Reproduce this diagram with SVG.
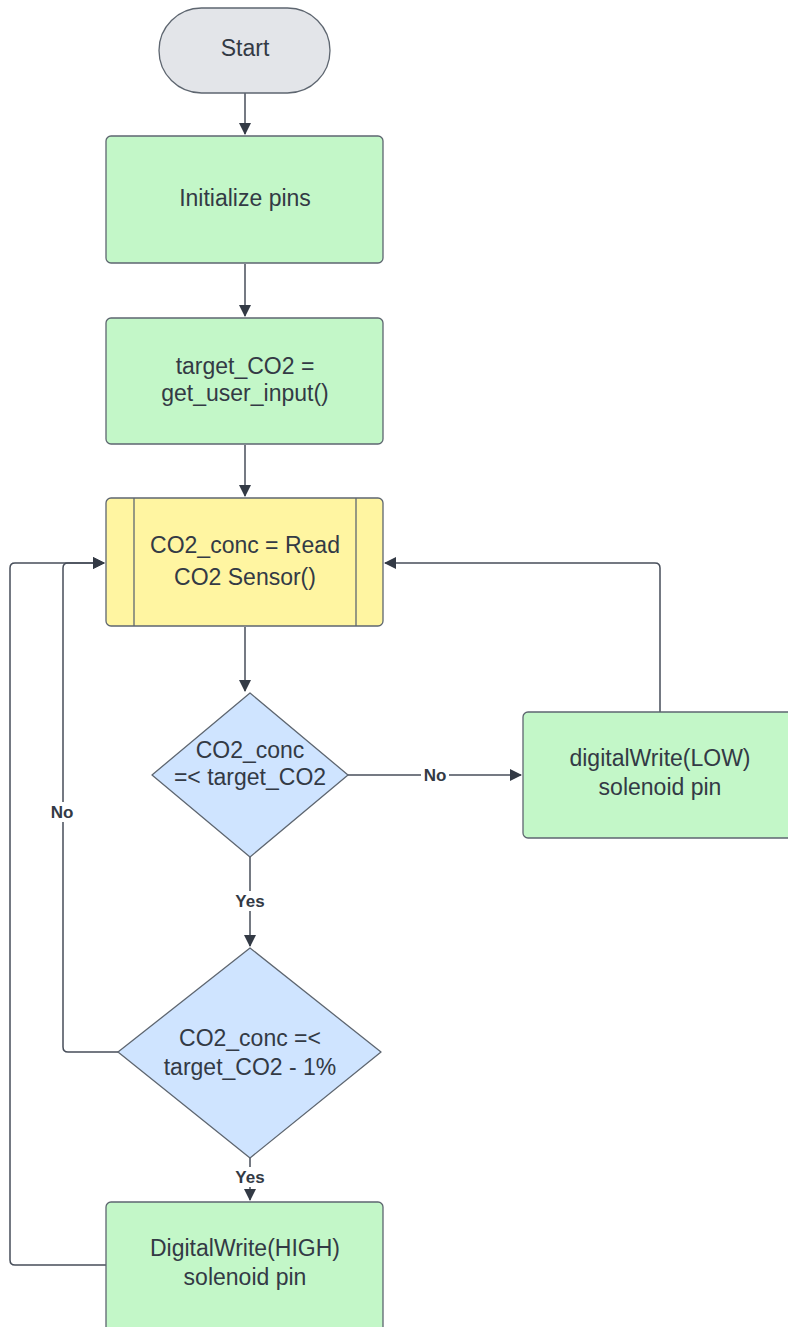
<svg xmlns="http://www.w3.org/2000/svg" width="788" height="1327" viewBox="0 0 788 1327">
<style>
.t{font-family:"Liberation Sans",Arial,sans-serif;font-size:23px;fill:#333a45;text-anchor:middle}
.l{font-family:"Liberation Sans",Arial,sans-serif;font-size:17px;font-weight:bold;fill:#333a45;text-anchor:middle}
.g{fill:#c3f7c8;stroke:#5e6670;stroke-width:1.3}
.y{fill:#fff5a1;stroke:#5e6670;stroke-width:1.3}
.b{fill:#cfe4ff;stroke:#5e6670;stroke-width:1.3;stroke-linejoin:round}
.s{fill:#e3e5e9;stroke:#5e6670;stroke-width:1.3}
.c{fill:none;stroke:#474e5a;stroke-width:1.5;stroke-linejoin:round}
</style>
<defs>
<marker id="a" markerWidth="12" markerHeight="12" refX="11" refY="6" orient="auto" markerUnits="userSpaceOnUse">
<path d="M0,0 L12,6 L0,12 Z" fill="#333a45"/>
</marker>
</defs>
<rect width="788" height="1327" fill="#ffffff"/>
<g id="connectors">
<path class="c" d="M245,93 L245,134" marker-end="url(#a)"/>
<path class="c" d="M245,264 L245,316" marker-end="url(#a)"/>
<path class="c" d="M245,445 L245,496" marker-end="url(#a)"/>
<path class="c" d="M245,627 L245,691" marker-end="url(#a)"/>
<path class="c" d="M348,775 L521,775" marker-end="url(#a)"/>
<path class="c" d="M660,712 L660,568 Q660,563 655,563 L385,563" marker-end="url(#a)"/>
<path class="c" d="M250,857 L250,946" marker-end="url(#a)"/>
<path class="c" d="M118,1052 L68,1052 Q63,1052 63,1047 L63,568 Q63,563 68,563 L104,563" marker-end="url(#a)"/>
<path class="c" d="M106,1265 L15,1265 Q10,1265 10,1260 L10,568 Q10,563 15,563 L104,563" marker-end="url(#a)"/>
<path class="c" d="M250,1158 L250,1200" marker-end="url(#a)"/>
<rect x="421" y="766" width="28" height="18" fill="#ffffff"/>
<text class="l" x="435" y="781">No</text>
<rect x="46" y="802" width="32" height="20" fill="#ffffff"/>
<text class="l" x="62" y="818">No</text>
<rect x="230" y="891" width="40" height="20" fill="#ffffff"/>
<text class="l" x="250" y="907">Yes</text>
<rect x="230" y="1167" width="40" height="20" fill="#ffffff"/>
<text class="l" x="250" y="1183">Yes</text>
</g>
<g id="start">
<rect class="s" x="159" y="8" width="171" height="85" rx="42.5"/>
<text class="t" x="245" y="56">Start</text>
</g>
<g id="init">
<rect class="g" x="106" y="136" width="277" height="127" rx="5"/>
<text class="t" x="245" y="206">Initialize pins</text>
</g>
<g id="target">
<rect class="g" x="106" y="318" width="277" height="126" rx="5"/>
<text class="t" x="245" y="374">target_CO2 =</text>
<text class="t" x="245" y="401">get_user_input()</text>
</g>
<g id="read">
<rect class="y" x="106" y="498" width="277" height="128" rx="5"/>
<line x1="134" y1="498" x2="134" y2="626" stroke="#5e6670" stroke-width="1.3"/>
<line x1="356" y1="498" x2="356" y2="626" stroke="#5e6670" stroke-width="1.3"/>
<text class="t" x="245" y="553">CO2_conc = Read</text>
<text class="t" x="245" y="585">CO2 Sensor()</text>
</g>
<g id="decision1">
<path class="b" d="M250,693 L348,775 L250,857 L152,775 Z"/>
<text class="t" x="250" y="758">CO2_conc</text>
<text class="t" x="250" y="785">=&lt; target_CO2</text>
</g>
<g id="low">
<rect class="g" x="523" y="712" width="275" height="126" rx="5"/>
<text class="t" x="660" y="766">digitalWrite(LOW)</text>
<text class="t" x="660" y="795">solenoid pin</text>
</g>
<g id="decision2">
<path class="b" d="M250,948 L381,1052 L250,1158 L118,1052 Z"/>
<text class="t" x="250" y="1046">CO2_conc =&lt;</text>
<text class="t" x="250" y="1075">target_CO2 - 1%</text>
</g>
<g id="high">
<rect class="g" x="106" y="1202" width="277" height="140" rx="5"/>
<text class="t" x="245" y="1256">DigitalWrite(HIGH)</text>
<text class="t" x="245" y="1285">solenoid pin</text>
</g>
</svg>
